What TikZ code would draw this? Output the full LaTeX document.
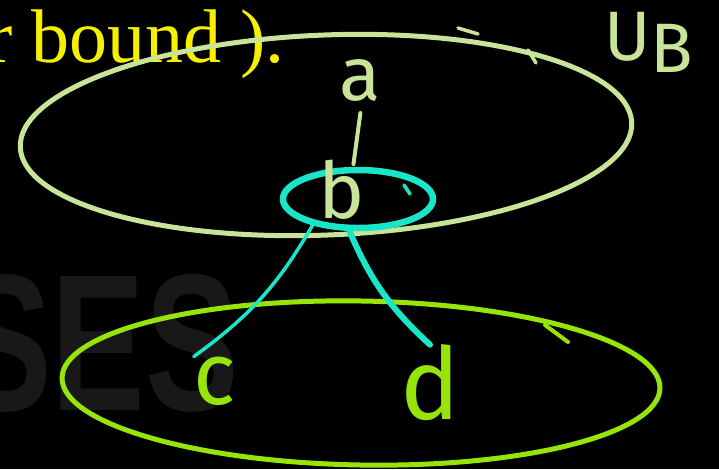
\documentclass[tikz,border=0pt]{standalone}
\usepackage{fontspec}
\setmainfont{Liberation Serif}
\newfontfamily\handfont{Fira Sans}
\newfontfamily\bigsans{Liberation Sans}
\usetikzlibrary{shapes.geometric}
\definecolor{paleset}{RGB}{200,228,152}
\definecolor{limeset}{RGB}{150,228,10}
\definecolor{ringcyan}{RGB}{25,230,200}
\definecolor{noteyellow}{RGB}{245,240,0}
\definecolor{ghostgray}{RGB}{24,24,24}
\newcommand{\handsize}[1]{\fontsize{#1}{#1}\selectfont\handfont}

\begin{document}
\begin{tikzpicture}[x=1pt,y=-1pt, line cap=round, every node/.style={inner sep=0pt},
  setring/.style={ellipse, draw, line width=5pt}]
  \useasboundingbox (0,0) rectangle (719,469);
  \fill[black] (0,0) rectangle (719,469);
  \node[anchor=base west, text=ghostgray, xscale=.72, font=\fontsize{195}{195}\selectfont\bigsans\bfseries] (ghost) at (-42,410) {SES};
  \node[anchor=base west, text=noteyellow, font=\fontsize{76}{76}\selectfont] (note) at (-13,62) {r bound ).};
  % the three sets
  \node[setring, draw=paleset, minimum width=612pt, minimum height=200pt, rotate=2.3] (upper) at (326,135) {};
  \node[setring, draw=limeset, minimum width=598pt, minimum height=164pt, rotate=-1] (lower) at (361,383) {};
  \node[setring, draw=ringcyan, line width=6.5pt, minimum width=150pt, minimum height=58pt] (ring) at (358,199) {};
  \draw[paleset, line width=3.5pt] (458,28) -- (478,34) (528,50) -- (536,63);
  \draw[limeset, line width=4pt] (545,325) -- (568,342);
  \draw[ringcyan, line width=3.5pt] (404,185) -- (410,194);
  % letters
  \node[text=paleset, font=\handsize{76}] (a) at (360,80) {a};
  \node[text=paleset, font=\handsize{78}] (b) at (342,190) {b};
  \node[text=limeset, font=\handsize{88}] (c) at (215,381) {c};
  \node[text=limeset, font=\handsize{100}] (d) at (430,383) {d};
  \node[text=paleset, font=\handsize{70}, anchor=north west] (ub) at (604,12) {U\raisebox{-12pt}{B}};
  % links
  \draw[paleset, line width=4pt, shorten <=12pt, shorten >=-4pt] ([xshift=2pt]a.south) -- ([xshift=12pt]b.north);
  \draw[ringcyan, line width=3.5pt] (ring.210) to[bend left=12] (c.north west);
  \draw[ringcyan, line width=6pt] (ring.255) to[bend right=12] (d.north);
\end{tikzpicture}
\end{document}
